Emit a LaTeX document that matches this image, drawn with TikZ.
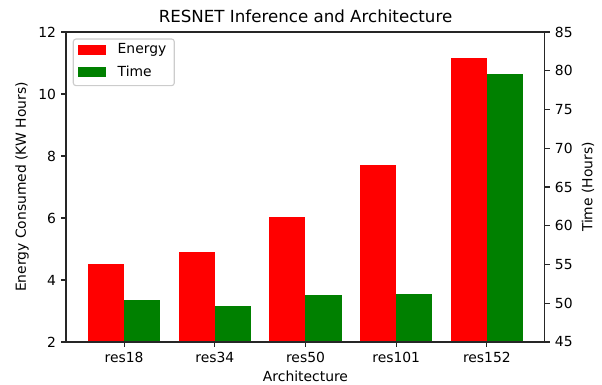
\documentclass[tikz,border=0pt]{standalone}
\usepackage{fontspec}
\setmainfont{DejaVu Sans}
\usetikzlibrary{positioning}
\definecolor{mplgreen}{HTML}{008000}
\definecolor{legedge}{HTML}{CCCCCC}

\begin{document}
\begin{tikzpicture}[x=0.72pt,y=0.72pt]
\tikzstyle{ticklab} = [
	inner sep=0pt,
	font=\fontsize{10pt}{12pt}\selectfont
];
\tikzstyle{axlab} = [
	inner sep=0pt,
	font=\fontsize{10pt}{12pt}\selectfont
];
\tikzstyle{patch} = [
	inner sep=0pt,
	minimum width=20pt,
	minimum height=7pt
];
\tikzstyle{tickline} = [line width=0.8pt, color=black!85];

\useasboundingbox (0,0) rectangle (602,385);

%energy axis (left)
\begin{scope}[shift={(89.35pt,-13.68pt)},x=65.3pt,y=22.32pt]
	\foreach \i/\e in {0/4.5, 1/4.9, 2/6.04, 3/7.7, 4/11.15}
		\fill[red] (\i-0.4,2) rectangle (\i,\e);
	\foreach \v in {2,4,...,12} {
		\draw[tickline] (-0.64,\v) -- ++(-3.5pt,0);
		\node[ticklab, anchor=east, xshift=-7pt] (e\v) at (-0.64,\v) {\v};
	}
	\foreach \i/\name in {0/res18, 1/res34, 2/res50, 3/res101, 4/res152} {
		\draw[tickline] (\i,2) -- ++(0,-3.5pt);
		\node[ticklab, anchor=north, yshift=-7pt] (c\i) at (\i,2) {\name};
	}
\end{scope}

%time axis (right)
\begin{scope}[shift={(89.35pt,-220.14pt)},x=65.3pt,y=5.58pt]
	\foreach \i/\t in {0/50.4, 1/49.7, 2/51.0, 3/51.2, 4/79.6}
		\fill[mplgreen] (\i,45) rectangle (\i+0.4,\t);
	\foreach \v in {45,50,...,85} {
		\draw[tickline] (4.64,\v) -- ++(3.5pt,0);
		\node[ticklab, anchor=west, xshift=7pt] (t\v) at (4.64,\v) {\v};
	}
	\draw[tickline] (-0.64,45) rectangle (4.64,85);
\end{scope}

%labels
\node[axlab, font=\fontsize{12pt}{14pt}\selectfont] (title) at (305.5,369) {RESNET Inference and Architecture};
\node[axlab] (xlab) at (305.5,8.5) {Architecture};
\node[axlab, rotate=90] (ylab) at (22,198) {Energy Consumed (KW Hours)};
\node[axlab, rotate=90] (y2lab) at (588,198) {Time (Hours)};

%legend
\draw[legedge, fill=white, line width=0.8pt, rounded corners=2pt] (73.3,299.3) rectangle (174.3,346);
\node[patch, fill=red] (enpatch) at (92.15,334.65) {};
\node[patch, fill=mplgreen] (tipatch) at (92.15,313.3) {};
\node[ticklab, right=8pt of enpatch] (entext) {Energy};
\node[ticklab, right=8pt of tipatch] (titext) {Time};

\end{tikzpicture}
\end{document}
